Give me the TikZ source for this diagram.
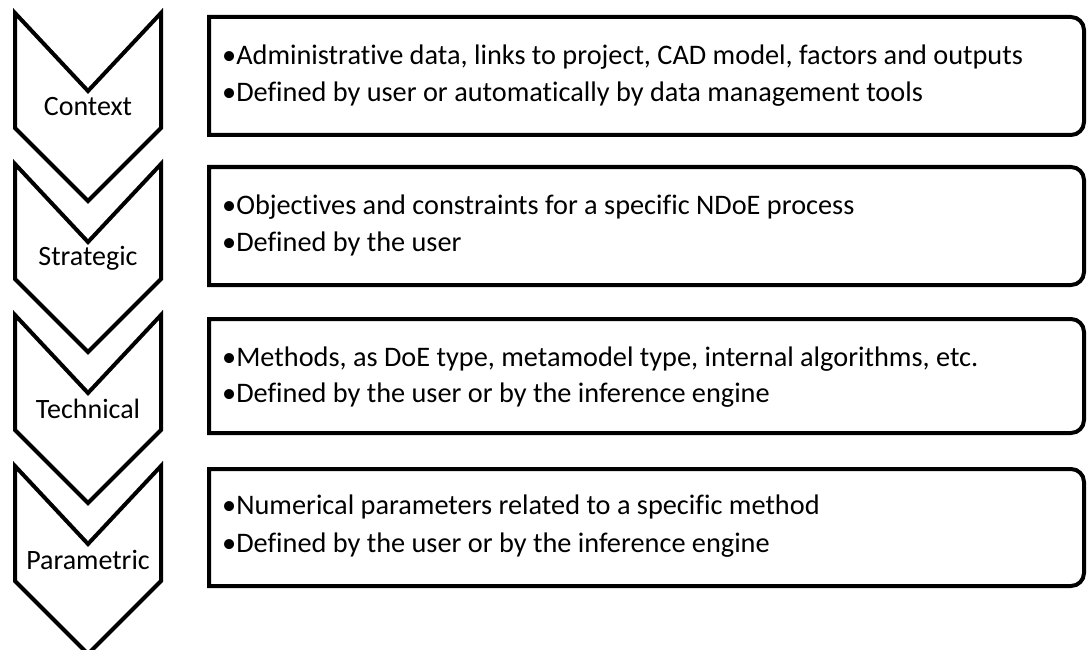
\documentclass[tikz,border=0pt]{standalone}
\usepackage{fontspec}
\setmainfont[Ligatures=NoCommon]{Carlito}
\begin{document}
\begin{tikzpicture}[x=1pt,y=-1pt,
  shapeline/.style={line width=4pt,line join=miter},
  label/.style={font=\fontsize{28}{32}\selectfont,inner sep=0pt,anchor=center},
  bodytxt/.style={font=\fontsize{28.3}{32}\selectfont,inner sep=0pt,anchor=west}]
\useasboundingbox (0,0) rectangle (1087,650);
% chevrons
\foreach \t/\n/\lab in {13/ctx/Context,164/str/Strategic,315/tec/Technical,466/par/Parametric}{
  \draw[shapeline] (15,\t) -- (88,\t+78) -- (161,\t) -- (161,\t+115) -- (88,\t+188) -- (15,\t+115) -- cycle;
  \node[label] (\n) at (88,\t+94) {\lab};
}
% boxes
\foreach \a/\b/\n in {17/135/bctx,167/285/bstr,319/433/btec,469/586/bpar}{
  \draw[shapeline] (209,\a) [rounded corners=13pt] -- (1084,\a) -- (1084,\b) [sharp corners] -- (209,\b) -- cycle;
}
\node[bodytxt] (c1) at (222,57) {•Administrative data, links to project, CAD model, factors and outputs};
\node[bodytxt] (c2) at (222,94) {•Defined by user or automatically by data management tools};
\node[bodytxt] (s1) at (222,207) {•Objectives and constraints for a specific NDoE process};
\node[bodytxt] (s2) at (222,244) {•Defined by the user};
\node[bodytxt] (t1) at (222,359) {•Methods, as DoE type, metamodel type, internal algorithms, etc.};
\node[bodytxt] (t2) at (222,395) {•Defined by the user or by the inference engine};
\node[bodytxt] (p1) at (222,507) {•Numerical parameters related to a specific method};
\node[bodytxt] (p2) at (222,545) {•Defined by the user or by the inference engine};
\end{tikzpicture}
\end{document}
